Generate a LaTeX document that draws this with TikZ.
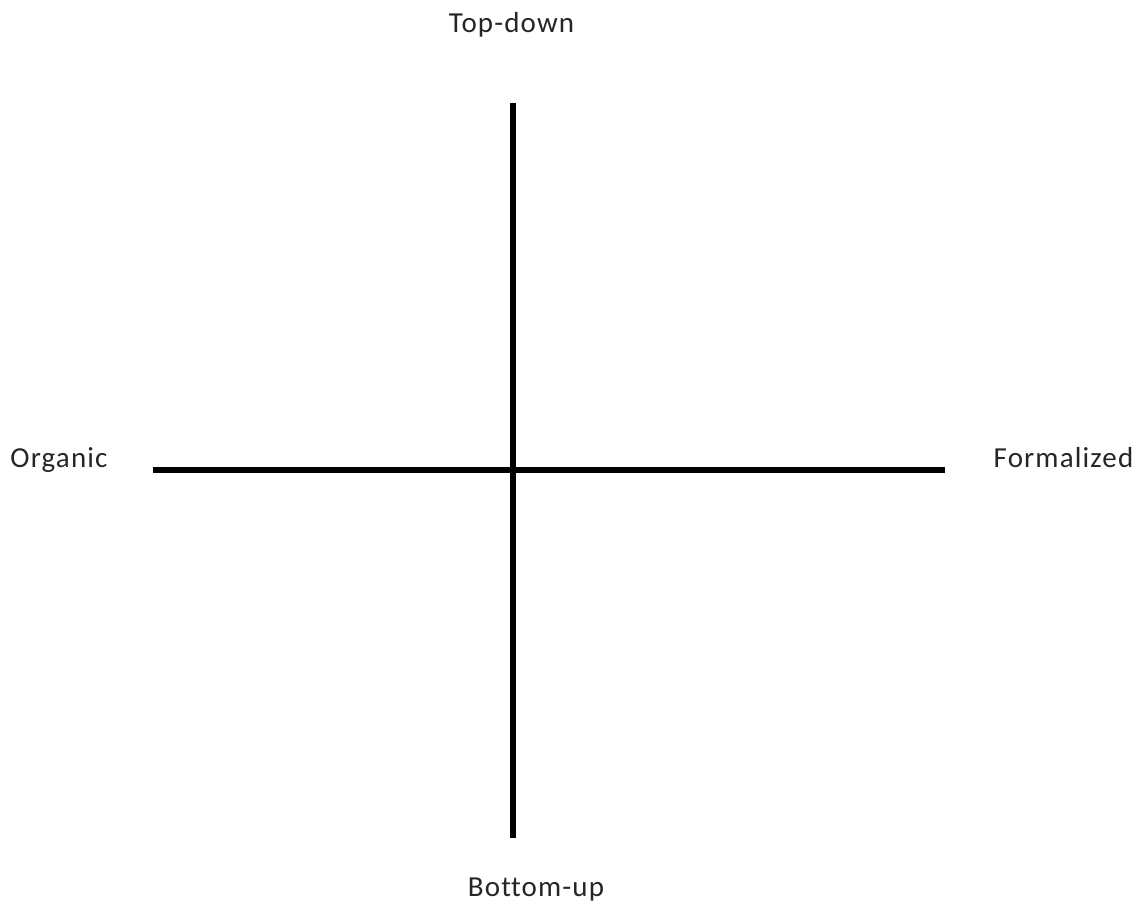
\documentclass[tikz,border=0pt]{standalone}
\usepackage{fontspec}
\setmainfont{Carlito}[LetterSpace=4,Ligatures={NoCommon,NoRequired,NoContextual}]
\begin{document}
\begin{tikzpicture}[x=1pt,y=-1pt,
  axis/.style={line width=5.5pt},
  lbl/.style={inner sep=0pt,anchor=base,font=\fontsize{29}{32}\selectfont,text=black!85}]
\useasboundingbox (0,0) rectangle (1148,909);
\fill[white] (0,0) rectangle (1148,909);
\coordinate (top) at (513,103);
\coordinate (bot) at (513,838);
\coordinate (left) at (153,470);
\coordinate (right) at (945,470);
\draw[axis] (top) -- (bot);
\draw[axis] (left) -- (right);
\node[lbl] (td) at (511.5,33) {Top-down};
\node[lbl] (bu) at (536,896) {Bot\kern0pt tom-up};
\node[lbl] (org) at (59,467) {Organic};
\node[lbl] (form) at (1063.5,467) {Formalized};
\end{tikzpicture}
\end{document}
